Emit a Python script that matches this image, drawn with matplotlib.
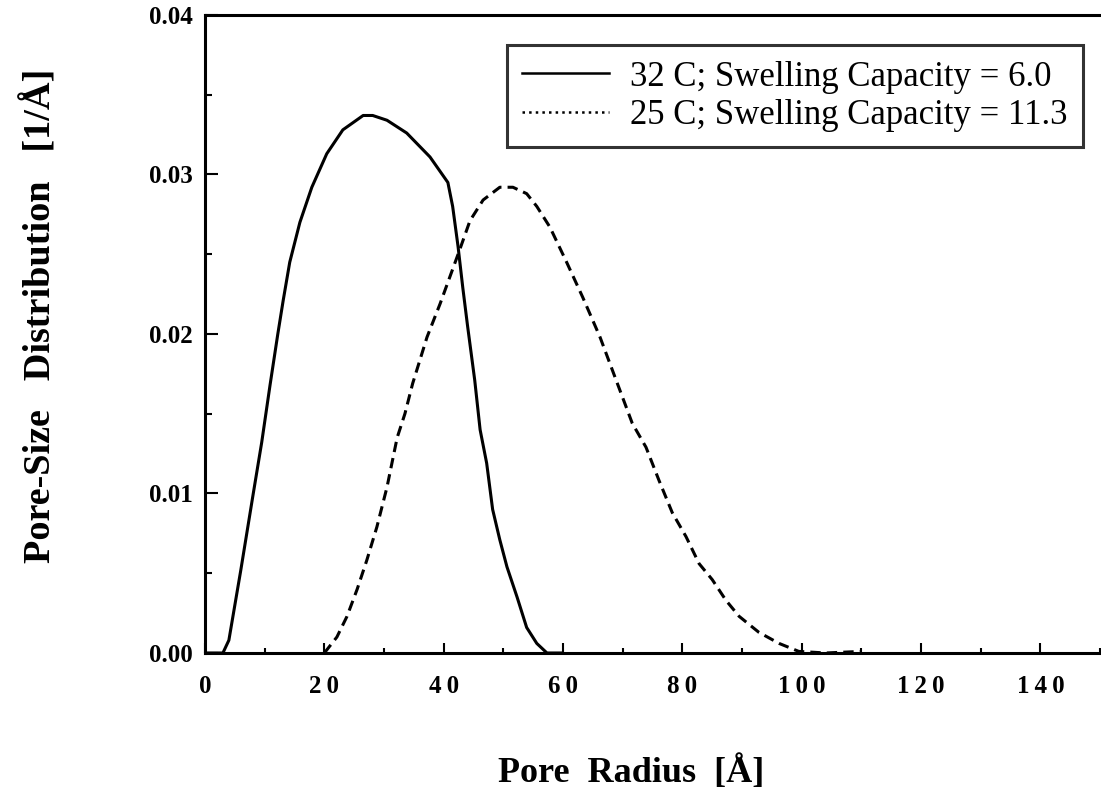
import matplotlib
matplotlib.use("Agg")
import matplotlib.pyplot as plt
from matplotlib.lines import Line2D
from matplotlib.ticker import MultipleLocator

# pore size distributions
r_32 = [0, 3.0, 4.0, 5.0, 6.0, 7.0, 8.0, 9.5, 10.9, 12.2, 13.1, 14.2, 15.9, 17.9,
        20.4, 23.1, 26.5, 28.1, 30.5, 33.8, 37.7, 40.7, 41.5, 42.4, 43.2, 44.0,
        45.2, 46.1, 47.2, 48.2, 49.4, 50.6, 52.3, 53.9, 55.6, 57.3, 60]
psd_32 = [0, 0, 0.0008, 0.0030, 0.0052, 0.0075, 0.0098, 0.0132, 0.0168, 0.0200,
          0.0221, 0.0245, 0.0270, 0.0292, 0.0313, 0.0328, 0.0337, 0.0337, 0.0334,
          0.0326, 0.0311, 0.0295, 0.0280, 0.0255, 0.0229, 0.0205, 0.0171, 0.0140,
          0.0119, 0.0090, 0.0071, 0.0054, 0.0035, 0.0016, 0.0006, 0, 0]

r_25 = [20, 22.1, 23.8, 25.5, 27.1, 28.8, 30.5, 32.2, 33.5, 34.8, 37.2, 39.4, 42.7,
        44.4, 46.6, 49.4, 51.6, 53.9, 55.6, 57.8, 60.6, 63.3, 66.2, 68.6, 71.6,
        73.9, 76.1, 78.3, 80.6, 82.8, 85.0, 87.3, 89.5, 92.8, 96.2, 99.5, 104, 110]
psd_25 = [0, 0.0010, 0.0023, 0.0040, 0.0058, 0.0079, 0.0104, 0.0135, 0.0150, 0.0169,
          0.0198, 0.0219, 0.0253, 0.0271, 0.0284, 0.0292, 0.0292, 0.0288, 0.0280,
          0.0267, 0.0245, 0.0223, 0.0198, 0.0174, 0.0144, 0.0129, 0.0108, 0.0088,
          0.0073, 0.0056, 0.0046, 0.0033, 0.0023, 0.0013, 0.0006, 0.0001, 0, 0.0001]

labels = ["32 C; Swelling Capacity = 6.0", "25 C; Swelling Capacity = 11.3"]
x_ticks = [0, 20, 40, 60, 80, 100, 120, 140]
y_ticks = [0.00, 0.01, 0.02, 0.03, 0.04]

plt.rcParams["font.family"] = ["Liberation Serif", "DejaVu Serif"]

fig = plt.figure(figsize=(11.01, 8.02), dpi=100)
ax = fig.add_axes([0.1862, 0.1858, 0.8130, 0.7955])

ax.plot(r_32, psd_32, color="black", lw=2.2, solid_capstyle="butt")
ax.plot(r_25, psd_25, color="black", lw=2.2, dashes=(3.4, 2.0))

ax.set_xlim(0, 150)
ax.set_ylim(0, 0.04)
ax.set_xticks(x_ticks)
ax.set_yticks(y_ticks)
ax.xaxis.set_minor_locator(MultipleLocator(10))
ax.yaxis.set_minor_locator(MultipleLocator(0.005))
# the original labels are letter-spaced
ax.set_xticklabels(["\u2009".join(str(t)) for t in x_ticks], fontweight="bold", fontsize=18)
ax.set_yticklabels([f"{t:.2f}" for t in y_ticks], fontweight="bold", fontsize=18)

ax.tick_params(axis="x", which="major", direction="in", length=7, width=1.5, pad=16)
ax.tick_params(axis="x", which="minor", direction="in", length=3.5, width=1.5)
ax.tick_params(axis="y", which="major", direction="in", length=9, width=1.5, pad=9)
ax.tick_params(axis="y", which="minor", direction="in", length=5, width=1.5)

ax.spines["right"].set_visible(False)
for s in ["left", "bottom", "top"]:
    ax.spines[s].set_linewidth(2.2)

fig.text(631 / 1101, 1 - 773 / 802, "Pore  Radius  [Å]",
         ha="center", va="center", fontsize=26, fontweight="bold")
fig.text(40 / 1101, 1 - 316 / 802, "Pore-Size   Distribution   [1/Å]",
         ha="center", va="center", rotation=90, fontsize=27.5, fontweight="bold")

handles = [Line2D([], [], color="black", lw=1.8),
           Line2D([], [], color="black", lw=1.8, linestyle=":")]
leg = ax.legend(handles, labels, loc="upper right",
                bbox_to_anchor=((1083 - 205) / 895, 1 - (45 - 15) / 638),
                borderaxespad=0, fontsize=25, frameon=True, fancybox=False,
                handlelength=2.5, handletextpad=0.6, borderpad=0.45,
                labelspacing=0.15)
leg.get_frame().set_edgecolor("black")
leg.get_frame().set_linewidth(2.2)

fig.savefig("out.png", dpi=100)
